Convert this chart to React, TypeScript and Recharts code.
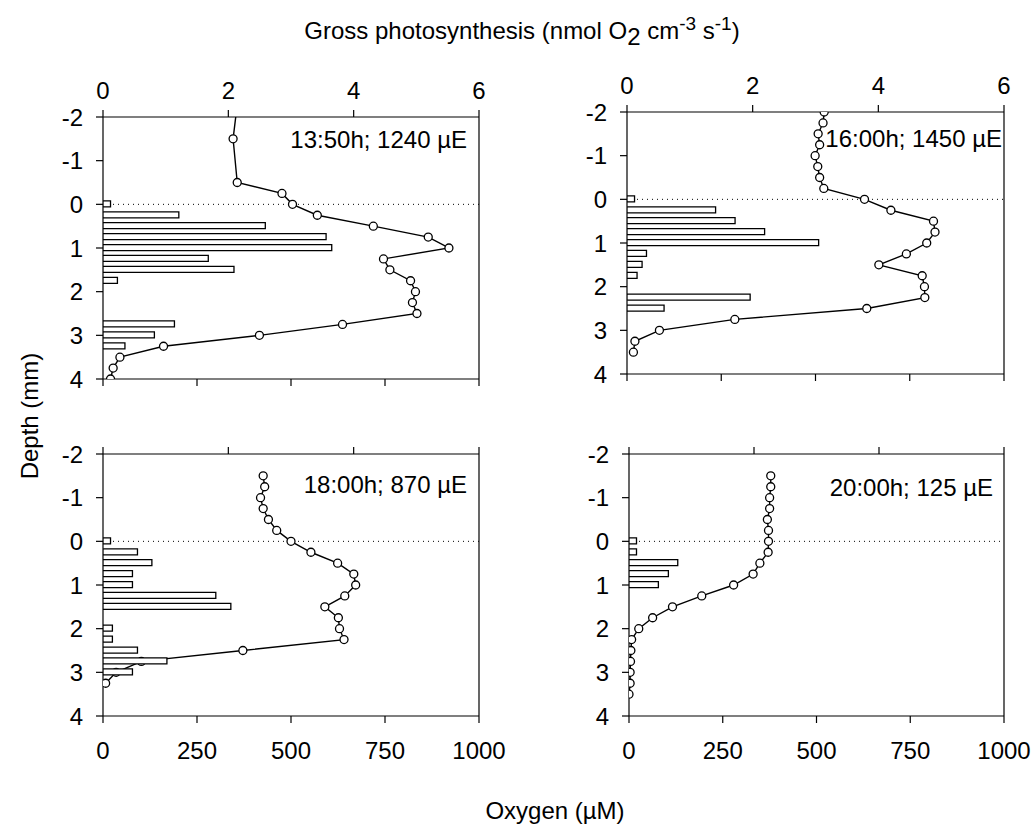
import React from 'react';
import { ComposedChart, Line, Bar, XAxis, YAxis, ReferenceLine } from 'recharts';

const FONT = '"Liberation Sans", Arial, Helvetica, sans-serif';

// Depth ticks (mm), GP ticks, oxygen ticks
const depthTicks = [-2, -1, 0, 1, 2, 3, 4];
const gpTicks = [0, 2, 4, 6];
const oxTicks = [0, 250, 500, 750, 1000];

// Panel 1: 13:50h; 1240 µE
const p1OxDepth = [-2.5, -1.5, -0.5, -0.25, 0, 0.25, 0.5, 0.75, 1, 1.25, 1.5, 1.75, 2, 2.25, 2.5, 2.75, 3, 3.25, 3.5, 3.75, 4];
const p1Ox = [360, 346, 357, 476, 504, 570, 719, 865, 920, 746, 763, 818, 831, 823, 835, 637, 416, 161, 45, 27, 20];
const p1GpDepth = [0, 0.25, 0.5, 0.75, 1, 1.25, 1.5, 1.75, 2.75, 3, 3.25];
const p1Gp = [0.12, 1.21, 2.59, 3.56, 3.65, 1.68, 2.09, 0.23, 1.14, 0.82, 0.35];

// Panel 2: 16:00h; 1450 µE
const p2OxDepth = [-2, -1.75, -1.5, -1.25, -1, -0.75, -0.5, -0.25, 0, 0.25, 0.5, 0.75, 1, 1.25, 1.5, 1.75, 2, 2.25, 2.5, 2.75, 3, 3.25, 3.5];
const p2Ox = [523, 520, 507, 511, 499, 506, 511, 522, 630, 700, 813, 817, 795, 741, 668, 783, 789, 790, 636, 286, 86, 21, 17];
const p2GpDepth = [0, 0.25, 0.5, 0.75, 1, 1.25, 1.5, 1.75, 2.25, 2.5];
const p2Gp = [0.12, 1.41, 1.72, 2.19, 3.05, 0.31, 0.24, 0.16, 1.96, 0.59];

// Panel 3: 18:00h; 870 µE
const p3OxDepth = [-1.5, -1.25, -1, -0.75, -0.5, -0.25, 0, 0.25, 0.5, 0.75, 1, 1.25, 1.5, 1.75, 2, 2.25, 2.5, 2.75, 3, 3.25];
const p3Ox = [426, 430, 419, 426, 440, 462, 500, 553, 624, 667, 672, 643, 590, 626, 629, 641, 372, 102, 35, 7];
const p3GpDepth = [0, 0.25, 0.5, 0.75, 1, 1.25, 1.5, 2, 2.25, 2.5, 2.75, 3];
const p3Gp = [0.12, 0.55, 0.78, 0.47, 0.47, 1.8, 2.04, 0.15, 0.15, 0.55, 1.02, 0.47];

// Panel 4: 20:00h; 125 µE
const p4OxDepth = [-1.5, -1.25, -1, -0.75, -0.5, -0.25, 0, 0.25, 0.5, 0.75, 1, 1.25, 1.5, 1.75, 2, 2.25, 2.5, 2.75, 3, 3.25, 3.5];
const p4Ox = [378, 378, 375, 375, 369, 372, 372, 371, 349, 331, 279, 194, 116, 63, 26, 7, 5, 4, 3, 3, 0];
const p4GpDepth = [0, 0.25, 0.5, 0.75, 1];
const p4Gp = [0.12, 0.12, 0.78, 0.63, 0.47];

type Row = { depth: number; oxygen?: number; gp?: number };

function buildRows(oxD: number[], ox: number[], gpD: number[], gp: number[]): Row[] {
  const map = new Map<number, Row>();
  oxD.forEach((d, i) => {
    const r = map.get(d) || { depth: d };
    r.oxygen = ox[i];
    map.set(d, r);
  });
  gpD.forEach((d, i) => {
    const r = map.get(d) || { depth: d };
    r.gp = gp[i];
    map.set(d, r);
  });
  return Array.from(map.values()).sort((a, b) => a.depth - b.depth);
}

const FS = 24;
const tickStyle = { fontSize: FS, fill: '#000', fontFamily: FONT };
const AX = { stroke: '#000', strokeWidth: 1.2 };

function Panel(props: {
  left: number; top: number; pw: number; ph: number; rows: Row[];
  oxLabels: boolean; gpLabels: boolean;
}) {
  const { left, top, pw, ph, rows, oxLabels, gpLabels } = props;
  const ML = 70, MT = 60, MR = 60, MB = 60;
  const W = pw + ML + MR;
  const H = ph + MT + MB;
  const margin = { top: MT - 40, bottom: MB - 40, left: ML - 60, right: MR };
  return (
    <div style={{ position: 'absolute', left: left - ML, top: top - MT, width: W, height: H }}>
      <div style={{ position: 'absolute', left: 0, top: 0 }}>
        <ComposedChart width={W} height={H} layout="vertical" data={rows} margin={margin}>
          <XAxis
            xAxisId="gp" type="number" orientation="top" domain={[0, 6]} ticks={gpTicks}
            height={40} tickSize={7} tickMargin={11} axisLine={AX} tickLine={AX}
            tick={tickStyle} tickFormatter={(v: number) => (gpLabels ? String(v) : '')}
            allowDataOverflow
          />
          <XAxis
            xAxisId="ox" type="number" orientation="bottom" domain={[0, 1000]} ticks={oxTicks}
            height={40} tickSize={7} tickMargin={19} axisLine={AX} tickLine={AX}
            tick={tickStyle} tickFormatter={(v: number) => (oxLabels ? String(v) : '')}
            allowDataOverflow
          />
          <YAxis
            yAxisId="d" type="number" dataKey="depth" domain={[-2, 4]} ticks={depthTicks}
            allowDataOverflow width={60} tickSize={7} tickMargin={13}
            axisLine={AX} tickLine={AX} tick={tickStyle} interval={0}
          />
          <ReferenceLine xAxisId="ox" yAxisId="d" y={0} stroke="#000" strokeWidth={1} strokeDasharray="1 4" />
          <ReferenceLine xAxisId="ox" yAxisId="d" x={1000} stroke="#000" strokeWidth={1.2} />
          <Line
            xAxisId="ox" yAxisId="d" dataKey="oxygen" type="linear" stroke="#000" strokeWidth={1.4}
            connectNulls isAnimationActive={false}
            dot={{ r: 4, fill: '#fff', stroke: '#000', strokeWidth: 1.3 }}
          />
        </ComposedChart>
      </div>
      <div style={{ position: 'absolute', left: 0, top: 0 }}>
        <ComposedChart width={W} height={H} layout="vertical" data={rows} margin={margin}>
          <XAxis
            xAxisId="gp" type="number" orientation="top" domain={[0, 6]} ticks={gpTicks}
            height={40} axisLine={false} tickLine={false} tick={false} allowDataOverflow
          />
          <XAxis
            xAxisId="ox" type="number" orientation="bottom" domain={[0, 1000]} ticks={oxTicks}
            height={40} axisLine={false} tickLine={false} tick={false} allowDataOverflow
          />
          <YAxis
            yAxisId="d" type="number" dataKey="depth" domain={[-2, 4]} ticks={depthTicks}
            allowDataOverflow width={60} axisLine={false} tickLine={false} tick={false}
          />
          <Bar
            xAxisId="gp" yAxisId="d" dataKey="gp" barSize={6} fill="#fff" stroke="#000"
            strokeWidth={1.3} isAnimationActive={false}
          />
        </ComposedChart>
      </div>
    </div>
  );
}

export default function App() {
  const r1 = buildRows(p1OxDepth, p1Ox, p1GpDepth, p1Gp);
  const r2 = buildRows(p2OxDepth, p2Ox, p2GpDepth, p2Gp);
  const r3 = buildRows(p3OxDepth, p3Ox, p3GpDepth, p3Gp);
  const r4 = buildRows(p4OxDepth, p4Ox, p4GpDepth, p4Gp);
  const txt = { fontSize: FS, fill: '#000', fontFamily: FONT } as const;
  return (
    <div style={{ position: 'absolute', left: 0, top: 0, width: 1034, height: 827, overflow: 'hidden', background: '#fff' }}>
      <Panel left={103} top={117} pw={376} ph={262} rows={r1} oxLabels={false} gpLabels={true} />
      <Panel left={627} top={112} pw={377} ph={262} rows={r2} oxLabels={false} gpLabels={true} />
      <Panel left={103} top={454} pw={376} ph={262} rows={r3} oxLabels={true} gpLabels={false} />
      <Panel left={629} top={454} pw={375} ph={262} rows={r4} oxLabels={true} gpLabels={false} />
      <svg width={1034} height={827} style={{ position: 'absolute', left: 0, top: 0, pointerEvents: 'none' }}>
        <text x={522} y={39} textAnchor="middle" {...txt}>
          Gross photosynthesis (nmol O<tspan dy={6}>2</tspan>
          <tspan dy={-6}> cm</tspan>
          <tspan dy={-9} fontSize={19}>-3</tspan>
          <tspan dy={9}> s</tspan>
          <tspan dy={-9} fontSize={19}>-1</tspan>
          <tspan dy={9}>)</tspan>
        </text>
        <text x={555} y={819} textAnchor="middle" {...txt}>Oxygen (µM)</text>
        <text x={38} y={416} textAnchor="middle" transform="rotate(-90 38 416)" {...txt}>Depth (mm)</text>
        <text x={467} y={148} textAnchor="end" {...txt}>13:50h; 1240 µE</text>
        <text x={1002} y={147} textAnchor="end" {...txt}>16:00h; 1450 µE</text>
        <text x={467} y={493} textAnchor="end" {...txt}>18:00h; 870 µE</text>
        <text x={993} y={496} textAnchor="end" {...txt}>20:00h; 125 µE</text>
      </svg>
    </div>
  );
}
